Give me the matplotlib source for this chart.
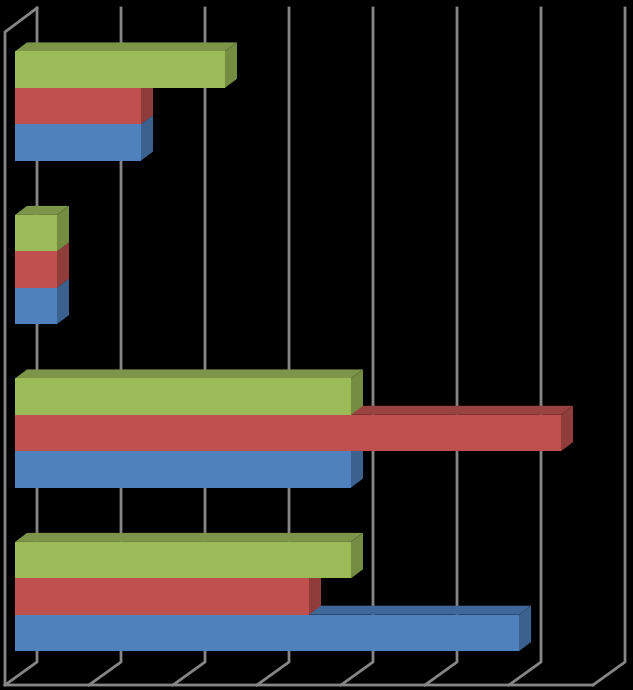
import matplotlib
matplotlib.use("Agg")
import matplotlib.pyplot as plt
from matplotlib.patches import Polygon

# Data (bottom group first); the chart has no visible text
positions = [0, 1, 2, 3]
blue_values = [6.0, 4.0, 0.5, 1.5]
red_values = [3.5, 6.5, 0.5, 1.5]
green_values = [4.0, 4.0, 0.5, 2.5]
grid_values = [0, 1, 2, 3, 4, 5, 6, 7]

# Styles: (values, front, side, top)
series = [
    (blue_values, "#4f81bd", "#3b618f", "#3f6798"),
    (red_values, "#c0504d", "#8f3c3a", "#9a4240"),
    (green_values, "#9bbb59", "#748d43", "#7c9549"),
]

W, H = 633, 690
fig = plt.figure(figsize=(W / 100, H / 100), dpi=100, facecolor="black")
ax = fig.add_axes([0, 0, 1, 1], facecolor="black")
ax.set_axis_off()

# Scale: 84 px per unit in x, 163.5 px per group in y
UX, UY = 84.0, 163.5
X0, Y0 = 15.0, 596.5
ax.set_xlim(-X0 / UX, (W - X0) / UX)
ax.set_ylim(-(H - Y0) / UY, Y0 / UY)


def px_x(px):
    return (px - X0) / UX


def px_y(py):
    return (Y0 - py) / UY


# Wall and floor lines
grid = "#868686"
lw = 2.0
back_x0, front_x0 = 37, 5
back_top, back_bot, front_top, front_bot = 8, 662, 32, 685
for v in grid_values:
    bx = v + px_x(back_x0)
    fx = v + px_x(front_x0)
    ax.plot([bx, bx, fx], [px_y(back_top), px_y(back_bot), px_y(front_bot)],
            color=grid, lw=lw, solid_joinstyle="miter", zorder=1)
ax.plot([px_x(37), px_x(5), px_x(5), 7 + px_x(5)],
        [px_y(8), px_y(32), px_y(685), px_y(685)],
        color=grid, lw=lw, solid_joinstyle="miter", zorder=1)

# Bars with pseudo-3D depth
height = 36.4 / UY
dx, dy = 12 / UX, 9 / UY
offsets = [-height, 0, height]
z = 2
for (values, front, side, top), off in zip(series, offsets):
    for p, v in zip(positions, values):
        c = p + off
        lo, hi = c - height / 2, c + height / 2
        ax.add_patch(Polygon([(0, hi), (v, hi), (v + dx, hi + dy), (dx, hi + dy)],
                             closed=True, fc=top, ec="none", zorder=z))
        ax.add_patch(Polygon([(v, lo), (v + dx, lo + dy), (v + dx, hi + dy), (v, hi)],
                             closed=True, fc=side, ec="none", zorder=z))
    ax.barh([p + off for p in positions], values, height=height, left=0,
            color=front, edgecolor="none", zorder=z + 0.5)
    z += 1

fig.savefig("out.png", dpi=100, facecolor="black")
